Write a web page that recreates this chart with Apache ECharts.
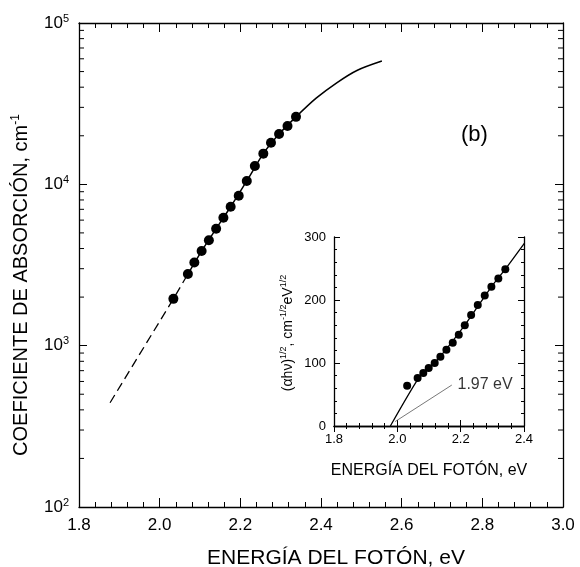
<!DOCTYPE html>
<html>
<head>
<meta charset="utf-8">
<script src="https://cdn.jsdelivr.net/npm/echarts@6/dist/echarts.min.js"></script>
<style>
  html, body { margin: 0; padding: 0; background: #fff; }
  #chart { width: 580px; height: 567px; }
</style>
</head>
<body>
<div id="chart"></div>
<script>
// main plot: absorption coefficient vs photon energy
const mainEnergy = [2.034, 2.070, 2.086, 2.104, 2.122, 2.140, 2.158, 2.176, 2.196, 2.216, 2.236, 2.257, 2.276, 2.296, 2.317, 2.338];
const mainAlpha = [1950, 2780, 3280, 3860, 4500, 5310, 6210, 7260, 8500, 10500, 13000, 15500, 18100, 20500, 23000, 26200];

// fitted curve: dashed extrapolation and solid part
const dashEnergy = [1.877, 2.034, 2.070];
const dashAlpha = [443, 1950, 2780];
const fitEnergy = [2.070, 2.104, 2.140, 2.176, 2.216, 2.257, 2.296, 2.338, 2.388, 2.439, 2.489, 2.551];
const fitAlpha = [2780, 3860, 5310, 7260, 10500, 15500, 20500, 26200, 34200, 42600, 50800, 58100];

// log axis minor tick values
const logMinorTicks = [200, 300, 400, 500, 600, 700, 800, 900,
  2000, 3000, 4000, 5000, 6000, 7000, 8000, 9000,
  20000, 30000, 40000, 50000, 60000, 70000, 80000, 90000];

// inset: (alpha h nu)^1/2 vs photon energy
const insetEnergy = [2.031, 2.064, 2.082, 2.099, 2.118, 2.136, 2.155, 2.175, 2.194, 2.213, 2.233, 2.254, 2.276, 2.297, 2.319, 2.341];
const insetRoot = [64, 76, 84, 92, 100, 110, 121, 132, 145, 160, 176, 192, 207, 221, 234, 249];
const insetLineEnergy = [1.978, 2.070, 2.118, 2.213, 2.297, 2.341, 2.401];
const insetLineRoot = [0, 78, 100, 160, 221, 249, 290];
const pointerEnergy = [2.172, 1.993];
const pointerRoot = [65, 7];
const gapLabel = '1.97 eV';
const gapLabelPos = [2.19, 65];

const font = 'Liberation Sans, Arial, sans-serif';
const zip = (a, b) => a.map((v, i) => [v, b[i]]);

const chart = echarts.init(document.getElementById('chart'));

const tickStyle = { color: '#000', width: 1 };
const axisLine = { show: true, lineStyle: { color: '#000', width: 1.3 } };

function mirrorX(gridIndex, min, max, interval, pos, len, mlen, label) {
  return {
    type: 'value', gridIndex, position: pos, min, max, interval, z: 6,
    axisLine, splitLine: { show: false },
    axisTick: { show: true, inside: true, length: len, lineStyle: tickStyle },
    minorTick: { show: true, splitNumber: 5, length: mlen, lineStyle: tickStyle },
    axisLabel: label || { show: false }
  };
}

const option = {
  animation: false,
  backgroundColor: '#fff',
  textStyle: { fontFamily: font, color: '#000' },
  grid: [
    { left: 79, top: 23, width: 484, height: 484, outerBoundsMode: 'none', containLabel: false },
    { left: 334, top: 237, width: 190, height: 189, outerBoundsMode: 'none', containLabel: false }
  ],
  xAxis: [
    Object.assign(mirrorX(0, 1.8, 3.0, 0.2, 'bottom', 9, 5, {
      show: true, fontSize: 17, color: '#000', margin: 10, fontFamily: font,
      formatter: v => v.toFixed(1)
    }), {
      name: 'ENERGÍA DEL FOTÓN, eV', nameLocation: 'middle', nameGap: 41,
      nameTextStyle: { fontSize: 21, color: '#000', fontFamily: font, padding: [0, 0, 0, 30] }
    }),
    mirrorX(0, 1.8, 3.0, 0.2, 'top', 9, 5),
    Object.assign(mirrorX(1, 1.8, 2.4, 0.2, 'bottom', 6, 3, {
      show: true, fontSize: 13, color: '#000', margin: 7, fontFamily: font,
      formatter: v => v.toFixed(1)
    }), {
      name: 'ENERGÍA DEL FOTÓN, eV', nameLocation: 'middle', nameGap: 37,
      nameTextStyle: { fontSize: 16, color: '#000', fontFamily: font }
    }),
    mirrorX(1, 1.8, 2.4, 0.2, 'top', 6, 3)
  ],
  yAxis: [
    {
      type: 'log', logBase: 10, gridIndex: 0, position: 'left', min: 100, max: 100000,
      axisLine, splitLine: { show: false },
      axisTick: { show: true, inside: true, length: 8, lineStyle: tickStyle },
      axisLabel: {
        fontSize: 17, color: '#000', margin: 10, fontFamily: font,
        formatter: v => '{b|10}{s|' + Math.round(Math.log10(v)) + '}',
        rich: {
          b: { fontSize: 17, fontFamily: font, color: '#000' },
          s: { fontSize: 11, fontFamily: font, color: '#000', verticalAlign: 'top', padding: [0, 0, 9, 0] }
        }
      }
    },
    {
      type: 'log', logBase: 10, gridIndex: 0, position: 'right', min: 100, max: 100000,
      axisLine, splitLine: { show: false },
      axisTick: { show: true, inside: true, length: 8, lineStyle: tickStyle },
      axisLabel: { show: false }
    },
    {
      type: 'value', gridIndex: 1, position: 'left', min: 0, max: 300, interval: 100, z: 6,
      axisLine, splitLine: { show: false },
      axisTick: { show: true, inside: true, length: 6, lineStyle: tickStyle },
      minorTick: { show: true, splitNumber: 5, length: 3, lineStyle: tickStyle },
      axisLabel: { fontSize: 13, color: '#000', margin: 8, fontFamily: font }
    },
    {
      type: 'value', gridIndex: 1, position: 'right', min: 0, max: 300, interval: 100, z: 6,
      axisLine, splitLine: { show: false },
      axisTick: { show: true, inside: true, length: 6, lineStyle: tickStyle },
      minorTick: { show: true, splitNumber: 5, length: 3, lineStyle: tickStyle },
      axisLabel: { show: false }
    }
  ],
  series: [
    {
      type: 'line', xAxisIndex: 0, yAxisIndex: 0, data: zip(dashEnergy, dashAlpha),
      symbol: 'none', lineStyle: { color: '#000', width: 1.3, type: [9, 5] }
    },
    {
      type: 'line', xAxisIndex: 0, yAxisIndex: 0, data: zip(fitEnergy, fitAlpha),
      symbol: 'none', smooth: 0.3, lineStyle: { color: '#000', width: 1.5 }
    },
    {
      type: 'scatter', xAxisIndex: 0, yAxisIndex: 0, data: zip(mainEnergy, mainAlpha),
      symbolSize: 10, itemStyle: { color: '#000', opacity: 1 }
    },
    {
      type: 'custom', xAxisIndex: 0, yAxisIndex: 0, clip: false,
      data: logMinorTicks.map(v => [1.8, v]),
      encode: { x: 0, y: 1 },
      renderItem: (params, api) => {
        const l = api.coord([1.8, api.value(1)]);
        const r = api.coord([3.0, api.value(1)]);
        const st = { stroke: '#000', lineWidth: 1 };
        return {
          type: 'group', children: [
            { type: 'line', shape: { x1: l[0], y1: l[1], x2: l[0] + 5, y2: l[1] }, style: st },
            { type: 'line', shape: { x1: r[0] - 5, y1: r[1], x2: r[0], y2: r[1] }, style: st }
          ]
        };
      }
    },
    {
      type: 'line', xAxisIndex: 2, yAxisIndex: 2, data: zip(insetLineEnergy, insetLineRoot),
      symbol: 'none', smooth: 0.2, z: 6, lineStyle: { color: '#000', width: 1.3 }
    },
    {
      type: 'scatter', xAxisIndex: 2, yAxisIndex: 2, data: zip(insetEnergy, insetRoot),
      symbolSize: 8, z: 7, itemStyle: { color: '#000', opacity: 1 }
    },
    {
      type: 'line', xAxisIndex: 2, yAxisIndex: 2, data: zip(pointerEnergy, pointerRoot),
      symbol: 'none', z: 6, lineStyle: { color: '#555', width: 0.8 }
    },
    {
      type: 'scatter', xAxisIndex: 2, yAxisIndex: 2, data: [gapLabelPos],
      symbolSize: 0, z: 8, silent: true,
      label: {
        show: true, position: 'right', distance: 0, formatter: gapLabel,
        fontSize: 16, color: '#000', fontFamily: font
      }
    }
  ],
  graphic: [
    {
      type: 'text', x: 21, y: 285, rotation: Math.PI / 2,
      style: {
        text: '{t|COEFICIENTE DE ABSORCIÓN, cm}{s|-1}',
        align: 'center', verticalAlign: 'middle',
        rich: {
          t: { fontSize: 20, fontFamily: font, fill: '#000' },
          s: { fontSize: 12, fontFamily: font, fill: '#000', verticalAlign: 'top', padding: [0, 0, 10, 0] }
        }
      }
    },
    {
      type: 'text', x: 288, y: 333, rotation: Math.PI / 2, z: 10,
      style: {
        text: '{t|(αhν)}{s|1/2}{t|, cm}{s|-1/2}{t|eV}{s|1/2}',
        align: 'center', verticalAlign: 'middle',
        rich: {
          t: { fontSize: 14, fontFamily: font, fill: '#000' },
          s: { fontSize: 9, fontFamily: font, fill: '#000', verticalAlign: 'top', padding: [0, 0, 8, 0] }
        }
      }
    },
    {
      type: 'text', x: 461, y: 124,
      style: { text: '(b)', fontSize: 22, fontFamily: font, fill: '#000' }
    }
  ]
};

chart.setOption(option);
</script>
</body>
</html>
